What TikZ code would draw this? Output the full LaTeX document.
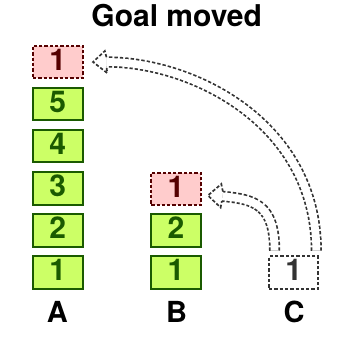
\documentclass[tikz,border=0pt]{standalone}
\usepackage{fontspec}
\setmainfont{TeX Gyre Heros}
\usetikzlibrary{calc}
\definecolor{gfill}{HTML}{CCFF66}
\definecolor{gdark}{HTML}{1A5A00}
\definecolor{rfill}{HTML}{FFCCCC}
\definecolor{rdark}{HTML}{550000}
\definecolor{cgray}{HTML}{333333}
\tikzset{
  box/.style={rectangle, minimum width=49.4pt, minimum height=32.4pt, inner sep=0pt,
    line width=2pt, text depth=5pt, font=\fontsize{30}{30}\selectfont\bfseries},
  gbox/.style={box, draw=gdark, fill=gfill, text=gdark},
  rbox/.style={box, draw=rdark, fill=rfill, text=rdark, dash pattern=on 3.3pt off 2pt},
  cbox/.style={box, draw=cgray, fill=white, text=cgray, dash pattern=on 3.3pt off 2pt},
  lbl/.style={anchor=base, inner sep=0pt, font=\fontsize{29}{29}\selectfont\bfseries},
  shaft/.style={preaction={draw=cgray, line width=11.2pt, dash pattern=on 3.3pt off 2pt},
    draw=white, line width=7.8pt, shorten <=1.7pt},
  headfill/.style={fill=white},
  headline/.style={draw=cgray, line width=1.7pt, dash pattern=on 3.3pt off 2pt, line join=miter},
}
\begin{document}
\begin{tikzpicture}[x=1pt,y=-1pt]
\useasboundingbox (0,0) rectangle (344,344);
\node[lbl, font=\fontsize{30}{30}\selectfont\bfseries] (title) at (176.7,26.7) {Goal moved};
% column A
\node[gbox] (a1) at (57.8,272.5) {1};
\node[gbox] (a2) at (57.8,230.4) {2};
\node[gbox] (a3) at (57.8,188.3) {3};
\node[gbox] (a4) at (57.8,146.2) {4};
\node[gbox] (a5) at (57.8,104.1) {5};
\node[rbox] (ag) at (57.8,62.0) {1};
% column B
\node[gbox] (b1) at (175.9,272.5) {1};
\node[gbox] (b2) at (175.9,230.4) {2};
\node[rbox] (bg) at (175.9,188.9) {1};
% column C
\node[cbox] (c1) at (293.7,272.6) {1};
% labels
\node[lbl] (la) at (57.3,322.7) {A};
\node[lbl] (lb) at (176.7,322.7) {B};
\node[lbl] (lc) at (294.0,322.7) {C};
% arrow C -> A
\coordinate (s2) at ($(c1.north)+(22.6,-3)$);
\coordinate (t2) at ($(ag.east)+(9.5,0)$);
\coordinate (e2) at ($(t2)+(13.5,0)$);
\path[shaft] (s2) .. controls ($(s2)+(0,-128)$) and ($(e2)+(88,0)$) .. (e2);
\path[headfill] ($(t2)+(13.5,-4.75)$) -- ($(t2)+(11.8,-11)$) -- (t2) -- ($(t2)+(14.2,11)$) -- ($(t2)+(13.5,4.75)$) -- cycle;
\path[headline] ($(t2)+(13.5,-4.75)$) -- ($(t2)+(11.8,-11)$) -- (t2) -- ($(t2)+(14.2,11)$) -- ($(t2)+(13.5,4.75)$);
% arrow C -> B
\coordinate (s1) at ($(c1.north)+(-19.1,-3)$);
\coordinate (t1) at ($(bg.east)+(6.3,6.6)$);
\coordinate (e1) at ($(t1)+(14.5,0.8)$);
\path[shaft] (s1) .. controls ($(s1)+(0,-48)$) and ($(e1)+(32,3)$) .. (e1);
\path[headfill] ($(e1)+(0.5,-4.7)$) -- ($(t1)+(13.4,-11.5)$) -- (t1) -- ($(t1)+(12.7,12)$) -- ($(e1)+(-0.5,4.7)$) -- cycle;
\path[headline] ($(e1)+(0.5,-4.7)$) -- ($(t1)+(13.4,-11.5)$) -- (t1) -- ($(t1)+(12.7,12)$) -- ($(e1)+(-0.5,4.7)$);
\end{tikzpicture}
\end{document}
